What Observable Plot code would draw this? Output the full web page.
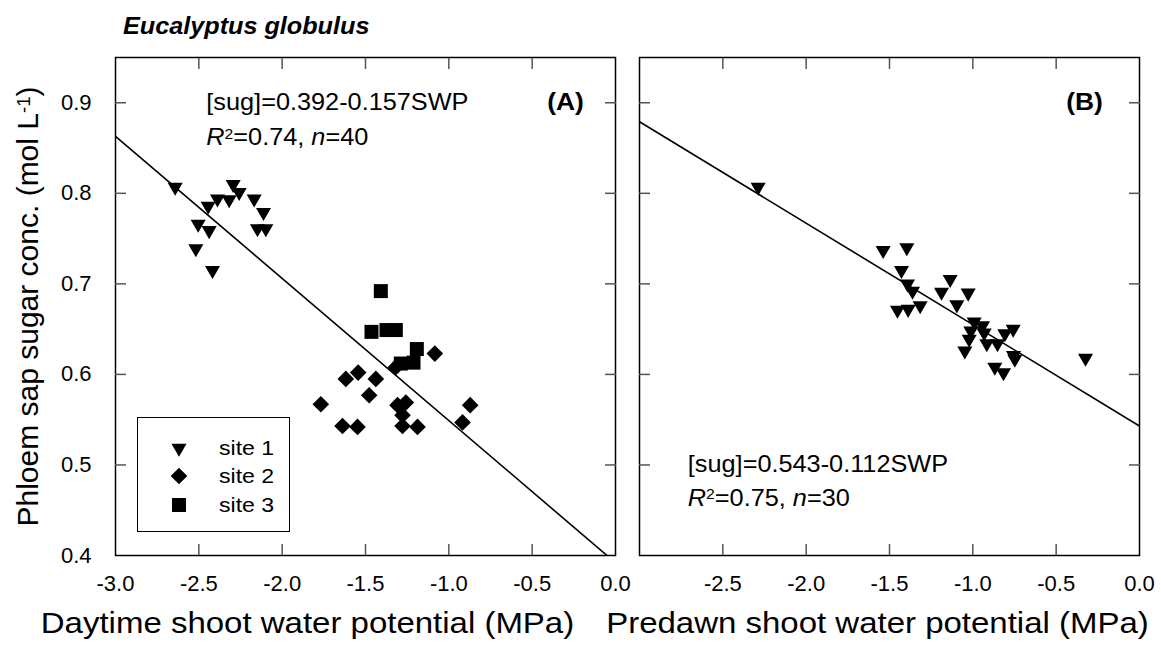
<!DOCTYPE html>
<html>
<head>
<meta charset="utf-8">
<script src="https://cdn.jsdelivr.net/npm/d3@7"></script>
<script src="https://cdn.jsdelivr.net/npm/@observablehq/plot@0.6"></script>
<style>
  html, body { margin: 0; padding: 0; background: #fff; }
  #wrap { position: relative; width: 1161px; height: 647px; overflow: hidden; font-family: "Liberation Sans", Arial, sans-serif; color: #000; }
  #title { position: absolute; left: 123px; top: 12px; font: italic bold 24px "Liberation Sans", Arial, sans-serif; transform: scaleX(1.05); transform-origin: left center; white-space: nowrap; }
  #pa { position: absolute; left: 0; top: 44px; }
  #pb { position: absolute; left: 620px; top: 44px; }
  #legend { position: absolute; left: 137px; top: 417px; width: 151px; height: 113px; border: 1.5px solid #000; background: #fff; }
  #legend .row { position: absolute; left: 0; height: 28px; width: 151px; }
  #legend svg { position: absolute; left: 31px; top: 4px; }
  #legend span { position: absolute; left: 81px; top: 1px; font-size: 21px; line-height: 26px; transform: scaleX(1.1); transform-origin: left center; white-space: nowrap; }
</style>
</head>
<body>
<div id="wrap">
  <div id="title">Eucalyptus globulus</div>
  <div id="pa"></div>
  <div id="pb"></div>
  <div id="legend"></div>
</div>
<script>
// ---------- data ----------
const xTicks = [-3, -2.5, -2, -1.5, -1, -0.5, 0];
const xTicksB = [-2.5, -2, -1.5, -1, -0.5, 0];
const xTicksInner = [-2.5, -2, -1.5, -1, -0.5];
const yTicks = [0.4, 0.5, 0.6, 0.7, 0.8, 0.9];
const yTicksInner = [0.5, 0.6, 0.7, 0.8, 0.9];

const siteNames = ["site 1", "site 2", "site 3"];

// Panel A: daytime shoot water potential (MPa) vs sugar conc.
const site1A_x = [-2.642, -2.294, -2.258, -2.388, -2.318, -2.444, -2.168, -2.112, -2.504, -2.438, -2.148, -2.098, -2.518, -2.418];
const site1A_y = [0.807, 0.810, 0.801, 0.794, 0.793, 0.786, 0.794, 0.779, 0.766, 0.759, 0.761, 0.761, 0.739, 0.715];
const site2A_x = [-1.768, -1.618, -1.544, -1.438, -1.478, -1.318, -1.084, -1.308, -1.258, -1.278, -1.638, -1.548, -1.278, -1.188, -0.872, -0.918];
const site2A_y = [0.567, 0.595, 0.602, 0.595, 0.577, 0.608, 0.623, 0.566, 0.569, 0.555, 0.543, 0.542, 0.543, 0.542, 0.566, 0.547];
const site3A_x = [-1.408, -1.464, -1.374, -1.318, -1.288, -1.192, -1.212];
const site3A_y = [0.692, 0.647, 0.649, 0.649, 0.612, 0.628, 0.613];

// Panel B: predawn shoot water potential (MPa) vs sugar conc.
const site1B_x = [-2.288, -1.538, -1.396, -1.428, -1.392, -1.362, -1.452, -1.388, -1.316, -1.136, -1.188, -1.028, -1.096, -0.992, -0.942, -1.012, -1.022, -0.932, -0.916, -0.852, -0.808, -0.758, -1.048, -0.756, -0.748, -0.868, -0.816, -0.324];
const site1B_y = [0.807, 0.737, 0.740, 0.715, 0.700, 0.692, 0.671, 0.672, 0.676, 0.705, 0.691, 0.690, 0.677, 0.658, 0.654, 0.648, 0.639, 0.646, 0.634, 0.634, 0.645, 0.650, 0.626, 0.621, 0.617, 0.608, 0.602, 0.618];

// Regression equations shown in the panels: [sug] = a + b*SWP
const fitA = [0.392, -0.157];
const fitB = [0.543, -0.112];
const fitRange = [-3, 0];

const eqA = ["[sug]=0.392-0.157SWP", "R2=0.74, n=40"];
const eqB = ["[sug]=0.543-0.112SWP", "R2=0.75, n=30"];
const xLabelA = "Daytime shoot water potential (MPa)";
const xLabelB = "Predawn shoot water potential (MPa)";
const yLabel = "Phloem sap sugar conc. (mol L-1)";

// ---------- helpers ----------
const pts = (xs, ys) => xs.map((x, i) => ({x, y: ys[i]}));
const fitLine = (f) => fitRange.map(x => ({x, y: f[0] + f[1] * x}));
const fmt = d => d.toFixed(1);

const FONT = "'Liberation Sans', Arial, sans-serif";
const TRI_R = 5.6, DIA_R = 7.5, SQ_R = 7.9;

function framing(showYLabels, xlab, xt, labDx) {
  const m = [
    Plot.frame({stroke: "#000", strokeWidth: 1.5}),
    Plot.axisX({anchor: "bottom", ticks: xTicksInner, tickSize: -11, stroke: "#555", strokeWidth: 1.5, fill: "none", label: null}),
    Plot.axisX({anchor: "top", ticks: xTicksInner, tickSize: -11, stroke: "#555", strokeWidth: 1.5, fill: "none", label: null}),
    Plot.axisY({anchor: "left", ticks: yTicksInner, tickSize: -11, stroke: "#555", strokeWidth: 1.5, fill: "none", label: null}),
    Plot.axisY({anchor: "right", ticks: yTicksInner, tickSize: -11, stroke: "#555", strokeWidth: 1.5, fill: "none", label: null}),
    Plot.axisX({anchor: "bottom", ticks: xt, tickSize: 0, tickPadding: 20, tickFormat: fmt, fontSize: 22, label: null, ariaLabel: "xticklabels"}),
    Plot.text([xlab], {text: d => d, frameAnchor: "bottom", dy: 68, dx: labDx, fontSize: 30, lineAnchor: "middle", textAnchor: "middle", ariaLabel: "xlabel"})
  ];
  if (showYLabels) {
    m.push(Plot.axisY({anchor: "left", ticks: yTicks, tickSize: 0, tickPadding: 24, tickFormat: fmt, fontSize: 22, label: null}));
    m.push(Plot.text([yLabel], {text: d => d, frameAnchor: "left", rotate: -90, dx: -87, fontSize: 30, lineAnchor: "middle", textAnchor: "middle"}));
  }
  return m;
}

const common = {
  height: 603,
  marginTop: 13,
  marginBottom: 92,
  x: {domain: [-3, 0]},
  y: {domain: [0.4, 0.95]},
  style: {fontFamily: FONT, fontSize: "22px", background: "transparent", overflow: "visible", color: "#000"}
};

const plotA = Plot.plot({
  ...common,
  width: 620,
  marginLeft: 115,
  marginRight: 5,
  marks: [
    ...framing(true, xLabelA, xTicks, -58),
    Plot.line(fitLine(fitA), {x: "x", y: "y", stroke: "#000", strokeWidth: 1.6, clip: true}),
    Plot.dot(pts(site1A_x, site1A_y), {x: "x", y: "y", symbol: "triangle", rotate: 180, r: TRI_R, fill: "#000", stroke: "none"}),
    Plot.dot(pts(site2A_x, site2A_y), {x: "x", y: "y", symbol: "diamond2", r: DIA_R, fill: "#000", stroke: "none"}),
    Plot.dot(pts(site3A_x, site3A_y), {x: "x", y: "y", symbol: "square", r: SQ_R, fill: "#000", stroke: "none"}),
    Plot.text([eqA[0]], {text: d => d, x: -2.455, y: 0.9, textAnchor: "start", fontSize: 23, lineAnchor: "middle"}),
    Plot.text([eqA[1]], {text: d => d, x: -2.455, y: 0.861, textAnchor: "start", fontSize: 23, lineAnchor: "middle"}),
    Plot.text(["(A)"], {text: d => d, x: -0.19, y: 0.9, textAnchor: "end", fontSize: 24, fontWeight: "bold", lineAnchor: "middle"})
  ]
});

const plotB = Plot.plot({
  ...common,
  width: 541,
  marginLeft: 19,
  marginRight: 22,
  marks: [
    ...framing(false, xLabelB, xTicksB, -12),
    Plot.line(fitLine(fitB), {x: "x", y: "y", stroke: "#000", strokeWidth: 1.6, clip: true}),
    Plot.dot(pts(site1B_x, site1B_y), {x: "x", y: "y", symbol: "triangle", rotate: 180, r: TRI_R, fill: "#000", stroke: "none"}),
    Plot.text([eqB[0]], {text: d => d, x: -2.71, y: 0.5, textAnchor: "start", fontSize: 23, lineAnchor: "middle"}),
    Plot.text([eqB[1]], {text: d => d, x: -2.71, y: 0.463, textAnchor: "start", fontSize: 23, lineAnchor: "middle"}),
    Plot.text(["(B)"], {text: d => d, x: -0.22, y: 0.9, textAnchor: "end", fontSize: 24, fontWeight: "bold", lineAnchor: "middle"})
  ]
});

document.getElementById("pa").appendChild(plotA);
document.getElementById("pb").appendChild(plotB);

// rich text: italics and superscripts
function richify(svg, match, parts) {
  d3.select(svg).selectAll("text").filter(function() { return this.textContent === match; }).each(function() {
    const t = d3.select(this);
    t.text(null);
    let shift = 0;
    parts.forEach(p => {
      const ts = t.append("tspan").text(p.t);
      if (p.i) ts.attr("font-style", "italic");
      if (p.sup) { ts.attr("dy", "-0.45em").attr("font-size", "0.62em"); shift = 1; }
      else if (shift) { ts.attr("dy", "0.28em"); shift = 0; }
    });
  });
}
richify(plotA, eqA[1], [{t: "R", i: true}, {t: "2", sup: true}, {t: "=0.74, "}, {t: "n", i: true}, {t: "=40"}]);
richify(plotB, eqB[1], [{t: "R", i: true}, {t: "2", sup: true}, {t: "=0.75, "}, {t: "n", i: true}, {t: "=30"}]);
richify(plotA, yLabel, [{t: "Phloem sap sugar conc. (mol L"}, {t: "-1", sup: true}, {t: ")"}]);

// horizontal widening of the (slightly wide) lettering of the original figure
function widen(svg, test) {
  d3.select(svg).selectAll("text").each(function() {
    if (this.textContent === "" || this.textContent.startsWith("Phloem")) return;
    const s = test(this);
    if (!s || s === 1) return;
    let x = parseFloat(this.getAttribute("x"));
    if (!isFinite(x)) x = 0;
    const tr = this.getAttribute("transform") || "";
    this.setAttribute("transform", `${tr} translate(${x},0) scale(${s},1) translate(${-x},0)`.trim());
  });
}
const widthRule = (el) => {
  const txt = el.textContent;
  if (txt.startsWith("Daytime") || txt.startsWith("Predawn")) return 1.1;
  if (/^-?\d\.\d$/.test(txt)) {
    const p = el.closest("g[aria-label]");
    if (p && p.getAttribute("aria-label") === "xticklabels") return 1.12;
    return 1;
  }
  return 1.1;
};
widen(plotA, widthRule);
widen(plotB, widthRule);

// legend (inside panel A)
const legendDefs = [
  {name: siteNames[0], type: d3.symbolTriangle, r: TRI_R, rot: 180},
  {name: siteNames[1], type: d3.symbolDiamond2, r: DIA_R, rot: 0},
  {name: siteNames[2], type: d3.symbolSquare, r: SQ_R, rot: 0}
];
const leg = d3.select("#legend");
legendDefs.forEach((d, i) => {
  const row = leg.append("div").attr("class", "row").style("top", (16 + i * 28.3) + "px");
  const s = row.append("svg").attr("width", 20).attr("height", 20);
  s.append("path")
    .attr("d", d3.symbol(d.type, Math.PI * d.r * d.r)())
    .attr("transform", `translate(10,10) rotate(${d.rot})`)
    .attr("fill", "#000");
  row.append("span").text(d.name);
});
</script>
</body>
</html>
